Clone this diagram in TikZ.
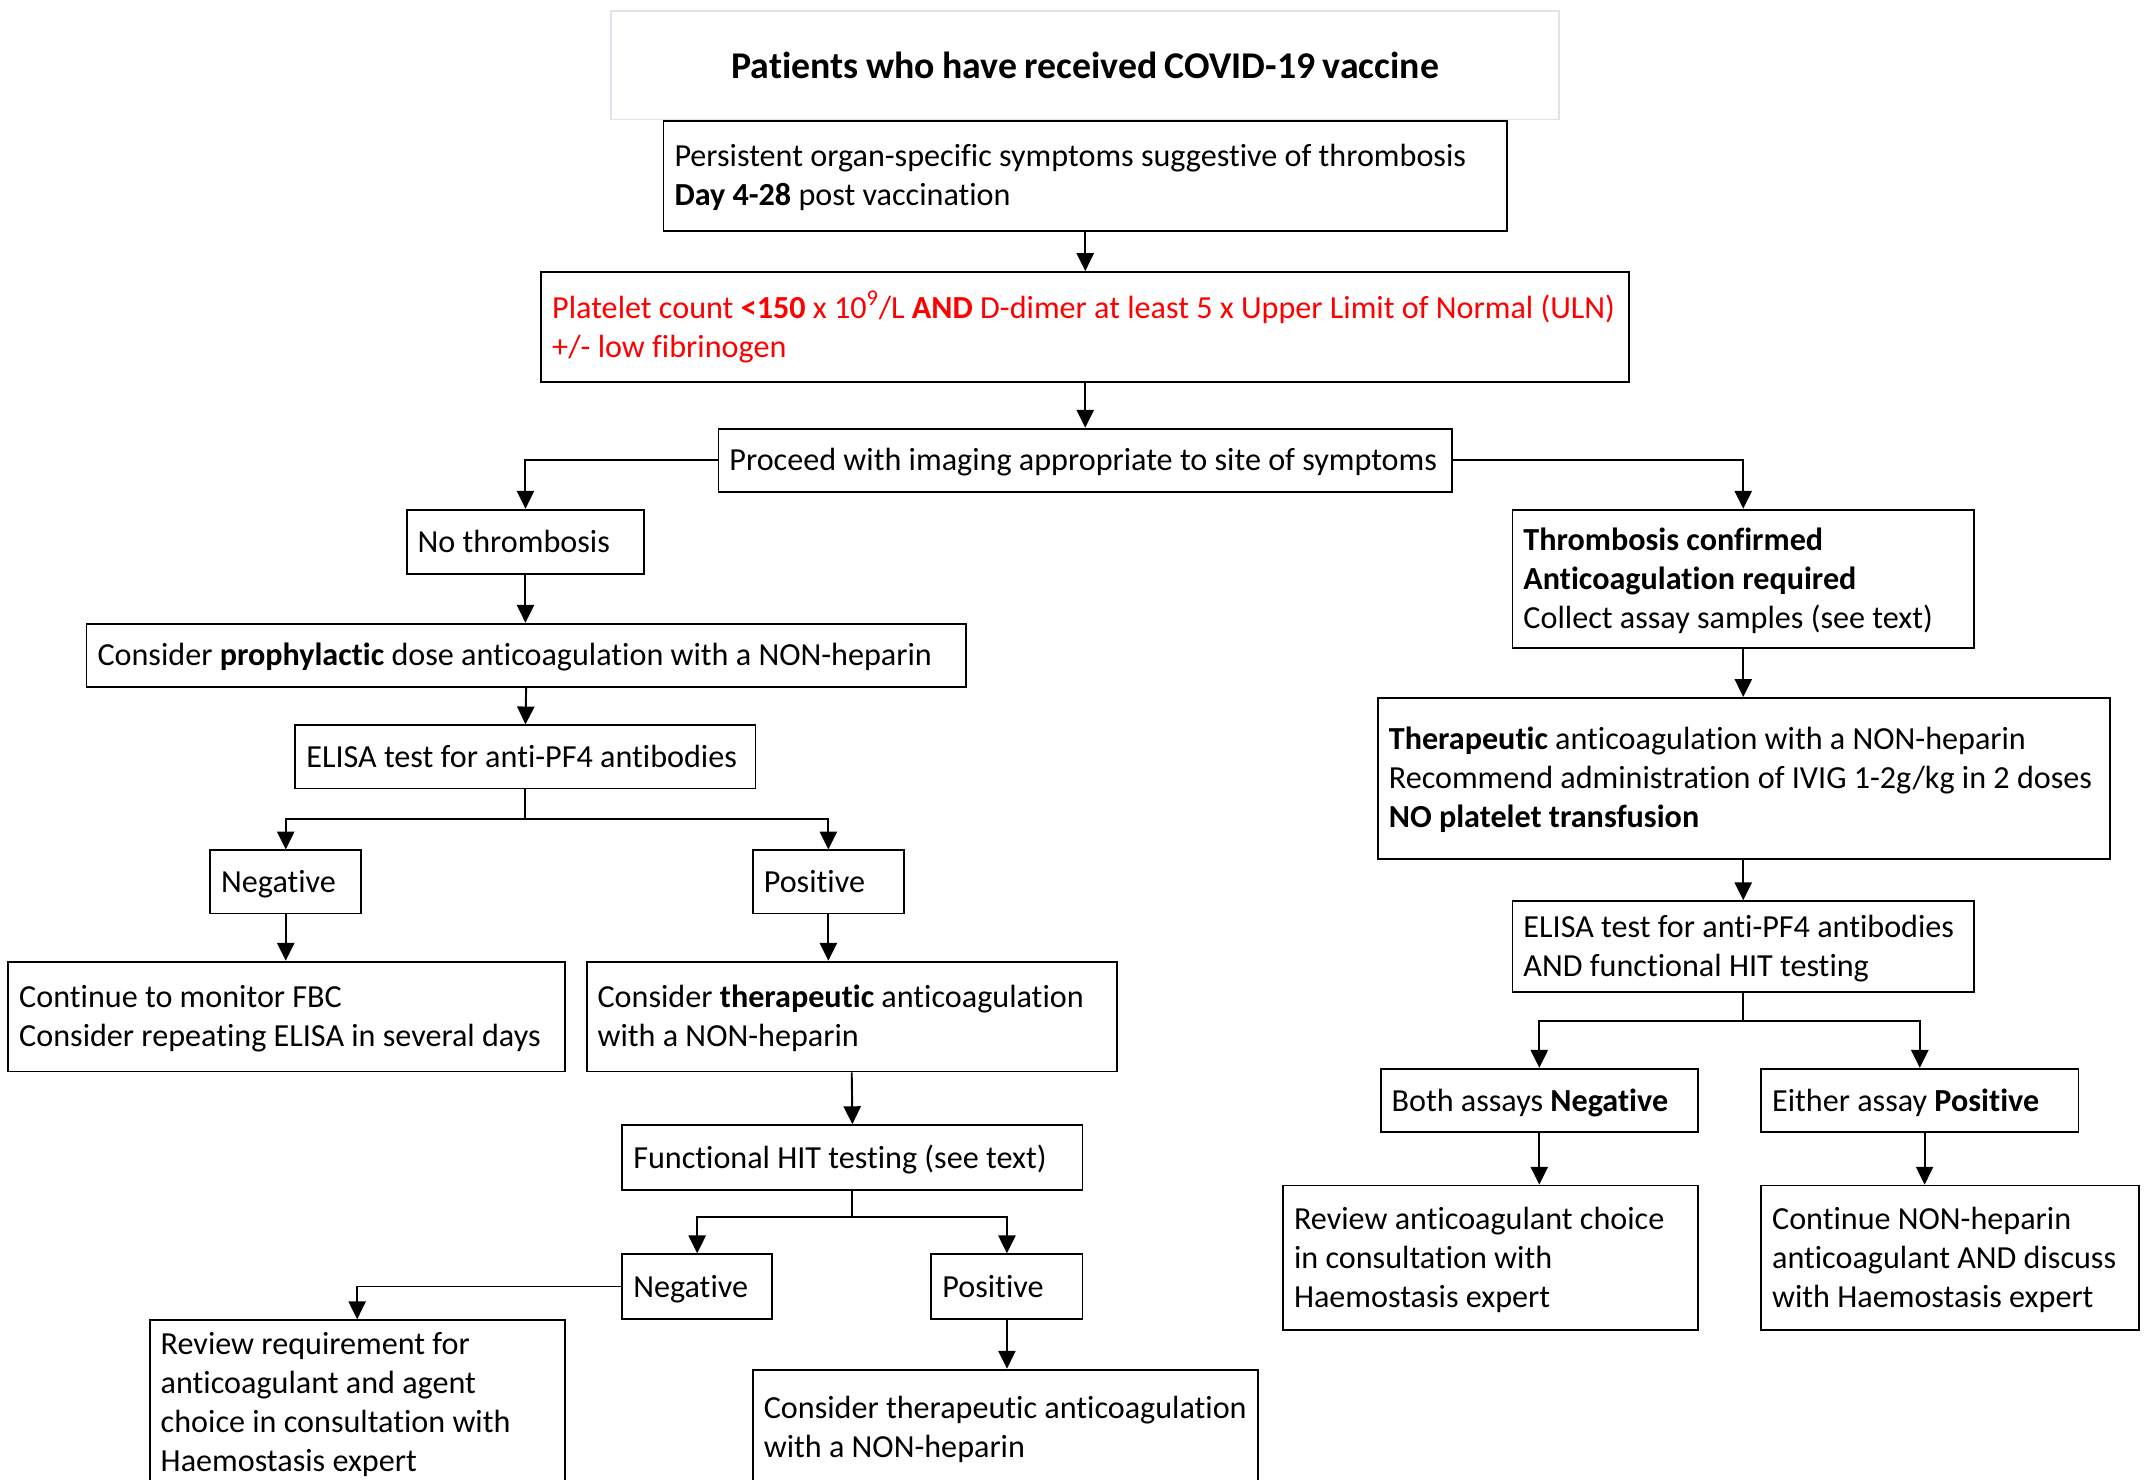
\documentclass[tikz,border=0pt]{standalone}
\usepackage{fontspec}
\setmainfont{Carlito}[Ligatures=NoCommon]
\usetikzlibrary{arrows.meta}
\definecolor{tborder}{RGB}{222,228,236}
\definecolor{redtxt}{RGB}{255,0,0}
\newcommand{\boxfnt}{\fontsize{23.4}{28.4}\selectfont}
\newcommand{\boxsp}{\spaceskip=0pt\xspaceskip=0pt\relax}
\newcommand{\titlefnt}{\fontsize{27.5}{30}\selectfont\bfseries\spaceskip=5.4pt\relax}
\tikzset{
  box/.style={draw, line width=1.35pt, inner xsep=8pt, inner ysep=0pt, align=left,
    font=\boxfnt,
    execute at begin node={\boxsp\rule{0pt}{21.5pt}},
    execute at end node={\rule[-6pt]{0pt}{6pt}}},
  titlebox/.style={draw=tborder, line width=1.2pt, inner sep=0pt, align=center,
    font=\titlefnt},
  line/.style={line width=1.4pt},
  arr/.style={line width=1.4pt, -{Triangle[length=13pt,width=12.5pt]}}
}
\begin{document}
\begin{tikzpicture}[x=1pt,y=-1pt]
\useasboundingbox (0,0) rectangle (1568,1077);
\clip (0,0) rectangle (1568,1077);
\fill[white] (0,0) rectangle (1568,1077);

% top chain
\node[titlebox, minimum width=690pt, minimum height=79pt] (title) at (790,47.5) {Patients who have received COVID-19 vaccine};
\node[box, minimum width=614pt, minimum height=80pt, text width=598pt] (persist) at (790,128)
  {\mbox{Persistent organ-specific symptoms suggestive of thrombosis}\\\mbox{\textbf{Day 4-28} post vaccination}};
\node[box, minimum width=792pt, minimum height=80pt, text width=776pt, text=redtxt] (red) at (790,238)
  {\mbox{Platelet count \textbf{<150} x 10\textsuperscript{9}/L \textbf{AND} D-dimer at least 5 x Upper Limit of Normal (ULN)}\\\mbox{+/- low fibrinogen}};
\node[box, minimum width=534pt, minimum height=46pt, text width=518pt] (proceed) at (790,335)
  {\mbox{Proceed with imaging appropriate to site of symptoms}};

% left branch
\node[box, minimum width=173pt, minimum height=47pt, text width=157pt] (nothromb) at (382.5,394.5) {\mbox{No thrombosis}};
\node[box, minimum width=640pt, minimum height=46pt, text width=624pt] (prophy) at (383,477)
  {\mbox{Consider \textbf{prophylactic} dose anticoagulation with a NON-heparin}};
\node[box, minimum width=335pt, minimum height=46pt, text width=319pt] (elisaL) at (382.5,551)
  {\mbox{ELISA test for anti-PF4 antibodies}};
\node[box, minimum width=110pt, minimum height=46pt, text width=94pt] (negL) at (208,642) {\mbox{Negative}};
\node[box, minimum width=110pt, minimum height=46pt, text width=94pt] (posL) at (603,642) {\mbox{Positive}};
\node[box, minimum width=405pt, minimum height=80pt, text width=389pt] (contmon) at (208.5,740)
  {\mbox{Continue to monitor FBC}\\\mbox{Consider repeating ELISA in several days}};
\node[box, minimum width=386pt, minimum height=80pt, text width=370pt] (considerther) at (620,740)
  {\mbox{Consider \textbf{therapeutic} anticoagulation}\\\mbox{with a NON-heparin}};
\node[box, minimum width=335pt, minimum height=47pt, text width=319pt] (funchit) at (620.5,842.5)
  {\mbox{Functional HIT testing (see text)}};
\node[box, minimum width=109pt, minimum height=47pt, text width=93pt] (negB) at (507.5,936.5) {\mbox{Negative}};
\node[box, minimum width=110pt, minimum height=47pt, text width=94pt] (posB) at (733,936.5) {\mbox{Positive}};
\node[box, minimum width=302pt, minimum height=119pt, text width=286pt] (review) at (260,1020.5)
  {\mbox{Review requirement for}\\\mbox{anticoagulant and agent}\\\mbox{choice in consultation with}\\\mbox{Haemostasis expert}};
\node[box, minimum width=368pt, minimum height=84pt, text width=352pt] (considerB) at (732,1039)
  {\mbox{Consider therapeutic anticoagulation}\\\mbox{with a NON-heparin}};

% right branch
\node[box, minimum width=336pt, minimum height=101pt, text width=320pt] (thromconf) at (1269,421.5)
  {\mbox{\textbf{Thrombosis confirmed}}\\\mbox{\textbf{Anticoagulation required}}\\\mbox{Collect assay samples (see text)}};
\node[box, minimum width=533pt, minimum height=117pt, text width=517pt] (therap) at (1269.5,566.5)
  {\mbox{\textbf{Therapeutic} anticoagulation with a NON-heparin}\\\mbox{Recommend administration of IVIG 1-2g/kg in 2 doses}\\\mbox{\textbf{NO platelet transfusion}}};
\node[box, minimum width=336pt, minimum height=66pt, text width=320pt] (elisaR) at (1269,689)
  {\mbox{ELISA test for anti-PF4 antibodies}\\\mbox{AND functional HIT testing}};
\node[box, minimum width=231pt, minimum height=46pt, text width=215pt] (bothneg) at (1120.5,801)
  {\mbox{Both assays \textbf{Negative}}};
\node[box, minimum width=231pt, minimum height=46pt, text width=215pt] (eitherpos) at (1397.5,801)
  {\mbox{Either assay \textbf{Positive}}};
\node[box, minimum width=302pt, minimum height=105pt, text width=286pt] (reviewac) at (1085,915.5)
  {\mbox{Review anticoagulant choice}\\\mbox{in consultation with}\\\mbox{Haemostasis expert}};
\node[box, minimum width=275pt, minimum height=105pt, text width=259pt] (contnon) at (1419.5,915.5)
  {\mbox{Continue NON-heparin}\\\mbox{anticoagulant AND discuss}\\\mbox{with Haemostasis expert}};

% connectors
\draw[arr] (persist.south) -- (red.north);
\draw[arr] (red.south) -- (proceed.north);
\draw[arr] (proceed.west) -| (nothromb.north);
\draw[arr] (proceed.east) -| (thromconf.north);
\draw[arr] (nothromb.south) -- (nothromb.south |- prophy.north);
\draw[arr] (prophy.south) -- (elisaL.north);
\coordinate (b1) at (382.5,596);
\draw[line] (elisaL.south) -- (b1);
\draw[arr] (b1) -| (negL.north);
\draw[arr] (b1) -| (posL.north);
\draw[arr] (negL.south) -- (negL.south |- contmon.north);
\draw[arr] (posL.south) -- (posL.south |- considerther.north);
\draw[arr] (considerther.south) -- (funchit.north);
\coordinate (b2) at (620.5,886);
\draw[line] (funchit.south) -- (b2);
\draw[arr] (b2) -| (negB.north);
\draw[arr] (b2) -| (posB.north);
\draw[arr] (negB.west) -| (review.north);
\draw[arr] (posB.south) -- (posB.south |- considerB.north);

\draw[arr] (thromconf.south) -- (thromconf.south |- therap.north);
\draw[arr] (therap.south -| elisaR.north) -- (elisaR.north);
\coordinate (b3) at (1269,743);
\draw[line] (elisaR.south) -- (b3);
\draw[arr] (b3) -| (bothneg.north);
\draw[arr] (b3) -| (eitherpos.north);
\draw[arr] (bothneg.south) -- (bothneg.south |- reviewac.north);
\draw[arr] ([xshift=3.5pt]eitherpos.south) -- ([xshift=3.5pt]eitherpos.south |- contnon.north);
\end{tikzpicture}
\end{document}
